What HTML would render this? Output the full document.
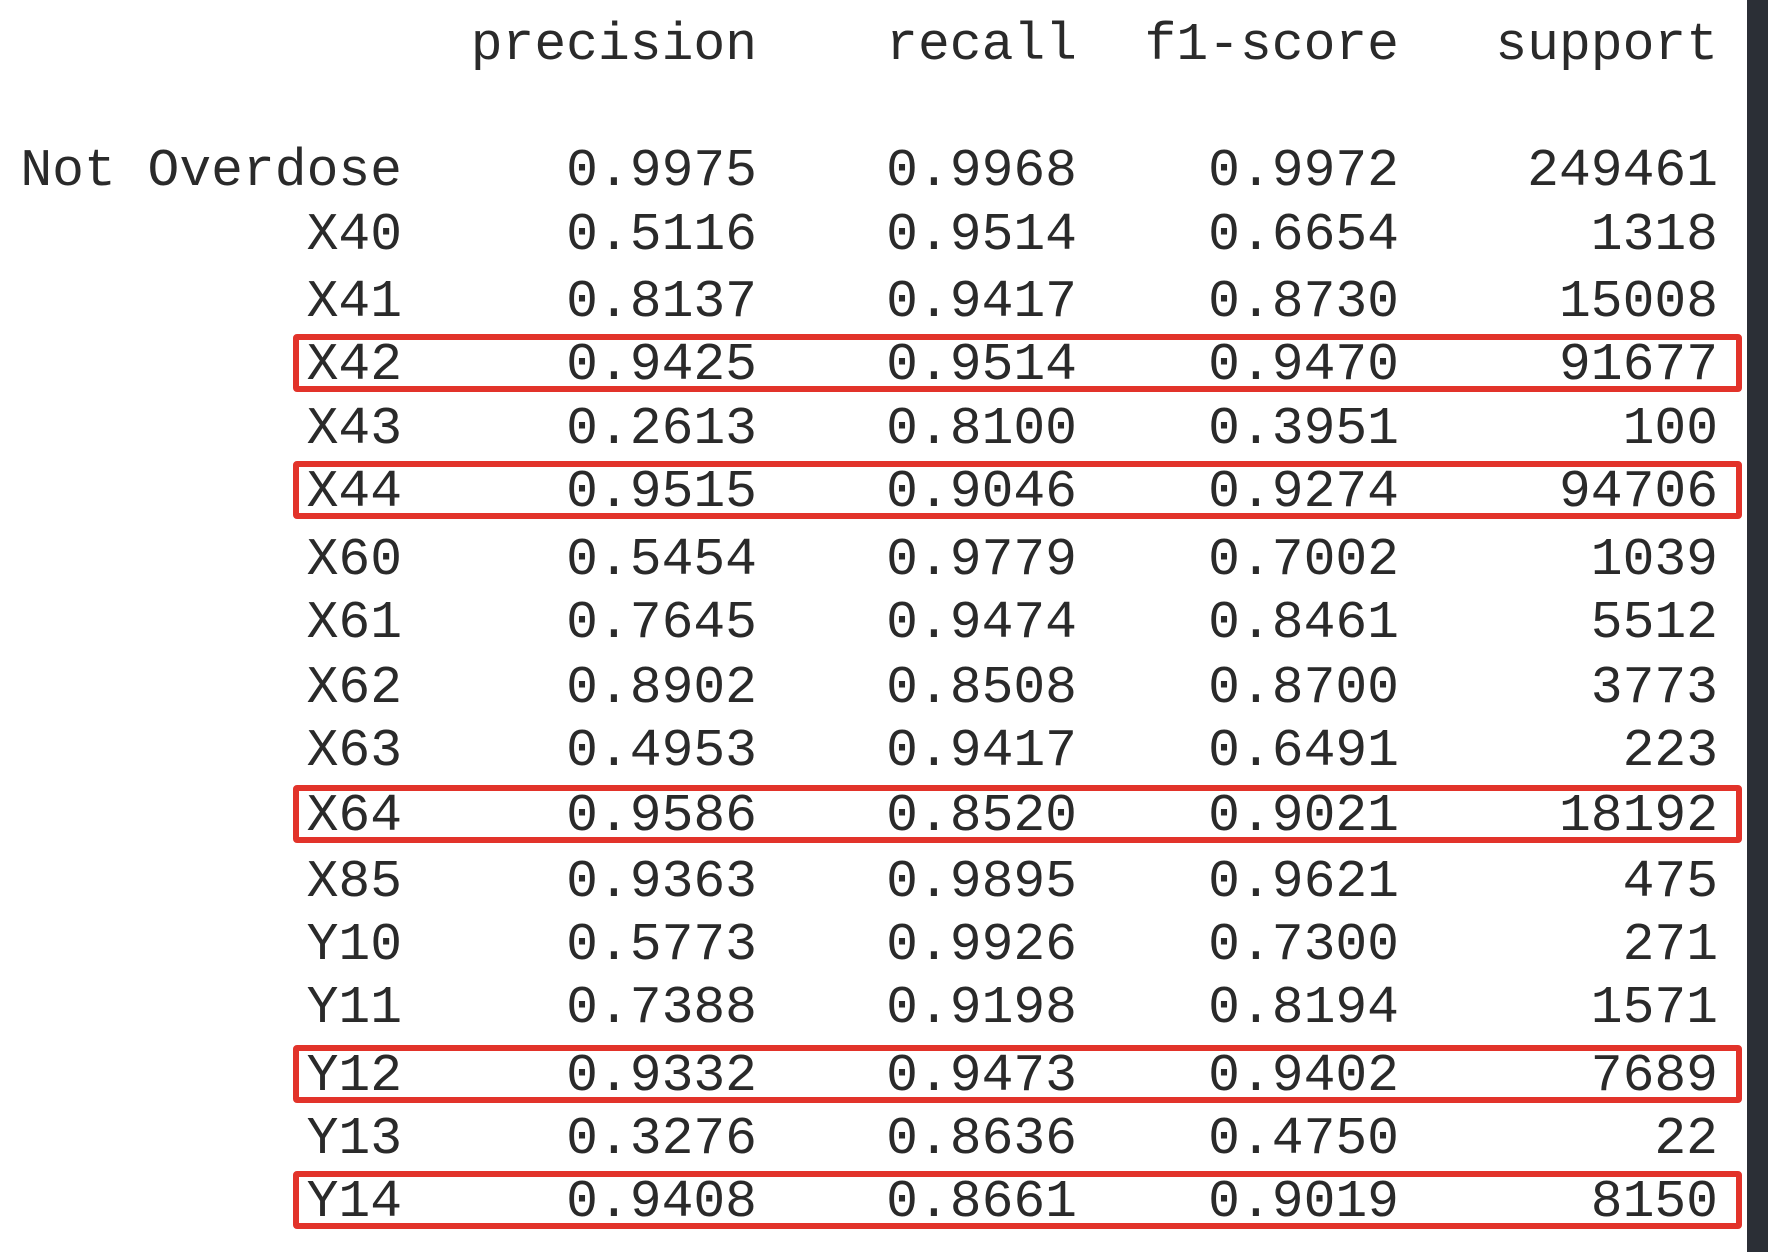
<!DOCTYPE html>
<html><head><meta charset="utf-8">
<style>
html,body{margin:0;padding:0;}
body{width:1768px;height:1252px;background:#fff;position:relative;overflow:hidden;font-family:"Liberation Mono","DejaVu Sans Mono",monospace;color:#2a2a2a;}
.t{position:absolute;font-size:53px;line-height:60px;height:60px;white-space:pre;text-align:right;}
.box{position:absolute;border:6px solid #e2332a;border-radius:4px;box-sizing:border-box;}
#edge{position:absolute;left:1747px;top:0;width:21px;height:1252px;background:#2b2f36;}
</style></head>
<body>
<div id="edge"></div>
<script>
const headers = ["precision","recall","f1-score","support"];
const labels = ["Not Overdose","X40","X41","X42","X43","X44","X60","X61","X62","X63","X64","X85","Y10","Y11","Y12","Y13","Y14"];
const precision = ["0.9975","0.5116","0.8137","0.9425","0.2613","0.9515","0.5454","0.7645","0.8902","0.4953","0.9586","0.9363","0.5773","0.7388","0.9332","0.3276","0.9408"];
const recall = ["0.9968","0.9514","0.9417","0.9514","0.8100","0.9046","0.9779","0.9474","0.8508","0.9417","0.8520","0.9895","0.9926","0.9198","0.9473","0.8636","0.8661"];
const f1 = ["0.9972","0.6654","0.8730","0.9470","0.3951","0.9274","0.7002","0.8461","0.8700","0.6491","0.9021","0.9621","0.7300","0.8194","0.9402","0.4750","0.9019"];
const support = ["249461","1318","15008","91677","100","94706","1039","5512","3773","223","18192","475","271","1571","7689","22","8150"];
const highlighted = ["X42","X44","X64","Y12","Y14"];
const rowY = [171,235,302,365,429,492,560,623,688,751,816,882,945,1008,1076,1139,1202];
const colRight = [402,757,1077,1399,1718];
const cols = [labels,precision,recall,f1,support];
const colNames = ["label","precision","recall","f1-score","support"];
function addText(txt, right, cy, name){
  const d=document.createElement('div');
  d.className='t';
  d.textContent=txt;
  d.style.left=(right-900)+'px';
  d.style.width='900px';
  d.style.top=(cy-30)+'px';
  
  
  document.body.appendChild(d);
}
headers.forEach((h,i)=>addText(h,colRight[i+1],45,'header-'+h));
labels.forEach((lab,r)=>{
  if(highlighted.indexOf(lab)>=0){
    const b=document.createElement('div');
    b.className='box';
    b.style.left='293px';
    b.style.width='1449px';
    b.style.top=(rowY[r]-31)+'px';
    b.style.height='58px';
    
    
    document.body.appendChild(b);
  }
  cols.forEach((c,ci)=>addText(c[r],colRight[ci],rowY[r],colNames[ci]+'-'+lab.toLowerCase().replace(' ','-')));
});
</script>
</body></html>
